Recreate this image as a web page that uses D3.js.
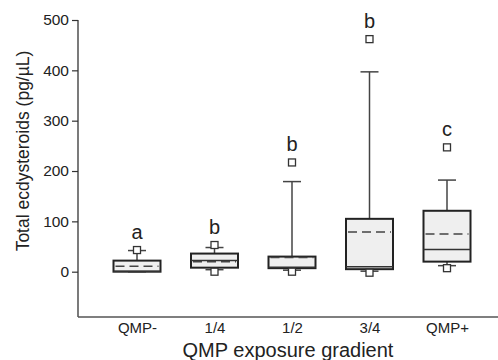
<!DOCTYPE html>
<html>
<head>
<meta charset="utf-8">
<script src="https://cdn.jsdelivr.net/npm/d3@7"></script>
<style>
  body { margin: 0; background: #fff; }
  svg { font-family: Arial, "Liberation Sans", sans-serif; }
</style>
</head>
<body>
<div id="chart"></div>
<script>
// values
const categories = ["QMP-", "1/4", "1/2", "3/4", "QMP+"];
const q1 = [0, 8, 7, 5, 20];
const median = [1, 22, 9, 10, 44];
const q3 = [22, 36, 30, 105, 121];
const mean = [11, 20, 28, 79, 75];
const whiskerLow = [0, 4, 3, 1, 12];
const whiskerHigh = [42, 48, 179, 397, 182];
const outliers = [[43], [53, 0], [217, 0], [462, -2], [247, 7]];
const letters = ["a", "b", "b", "b", "c"];
const yTicks = [0, 100, 200, 300, 400, 500];

const width = 498, height = 360;
const fontFam = "Arial, 'Liberation Sans', sans-serif";
const svg = d3.select("#chart").append("svg")
  .attr("width", width)
  .attr("height", height);

const x = d3.scalePoint().domain(categories).range([137, 447]);
const y = d3.scaleLinear().domain([-90, 500]).range([317, 20]);

const boxW = 47, capW = 18, sq = 7;

// y axis
const yAxis = svg.append("g")
  .attr("transform", "translate(78,0)")
  .call(d3.axisLeft(y).tickValues(yTicks).tickSize(6).tickPadding(3))
  .attr("font-size", 15.5).attr("font-family", fontFam);
yAxis.select(".domain").remove();
yAxis.selectAll(".tick line").attr("stroke", "#333").attr("stroke-width", 1.2);
yAxis.selectAll(".tick text").attr("fill", "#222");
svg.append("line")
  .attr("x1", 78).attr("x2", 78)
  .attr("y1", y(500)).attr("y2", y(-90))
  .attr("stroke", "#333").attr("stroke-width", 1.3);

// x axis
const xAxis = svg.append("g")
  .attr("transform", "translate(0," + y(-90) + ")")
  .call(d3.axisBottom(x).tickSize(0).tickPadding(5))
  .attr("font-size", 15).attr("font-family", fontFam);
xAxis.select(".domain").remove();
xAxis.selectAll(".tick text").attr("fill", "#222");
svg.append("line")
  .attr("x1", 78).attr("x2", width)
  .attr("y1", y(-90)).attr("y2", y(-90))
  .attr("stroke", "#555").attr("stroke-width", 1.3);

// axis titles
svg.append("text")
  .attr("x", 288).attr("y", 357)
  .attr("text-anchor", "middle")
  .attr("font-size", 20).attr("fill", "#222")
  .text("QMP exposure gradient");
svg.append("text")
  .attr("transform", "translate(29,151) rotate(-90)")
  .attr("text-anchor", "middle")
  .attr("font-size", 17.5).attr("fill", "#222")
  .text("Total ecdysteroids (pg/\u00b5L)");

const data = categories.map((c, i) => ({
  c, q1: q1[i], med: median[i], q3: q3[i], mean: mean[i],
  lo: whiskerLow[i], hi: whiskerHigh[i], out: outliers[i], letter: letters[i]
}));

const g = svg.selectAll(".box").data(data).enter().append("g").attr("class", "box");

// whiskers
g.append("line")
  .attr("x1", d => x(d.c)).attr("x2", d => x(d.c))
  .attr("y1", d => y(d.hi)).attr("y2", d => y(d.q3))
  .attr("stroke", "#444").attr("stroke-width", 1.5);
g.append("line")
  .attr("x1", d => x(d.c)).attr("x2", d => x(d.c))
  .attr("y1", d => y(d.lo)).attr("y2", d => y(d.q1))
  .attr("stroke", "#444").attr("stroke-width", 1.5);
g.append("line")
  .attr("x1", d => x(d.c) - capW / 2).attr("x2", d => x(d.c) + capW / 2)
  .attr("y1", d => y(d.hi)).attr("y2", d => y(d.hi))
  .attr("stroke", "#444").attr("stroke-width", 1.5);
g.append("line")
  .attr("x1", d => x(d.c) - capW / 2).attr("x2", d => x(d.c) + capW / 2)
  .attr("y1", d => y(d.lo)).attr("y2", d => y(d.lo))
  .attr("stroke", "#444").attr("stroke-width", 1.5);

// boxes
g.append("rect")
  .attr("x", d => x(d.c) - boxW / 2)
  .attr("width", boxW)
  .attr("y", d => y(d.q3))
  .attr("height", d => y(d.q1) - y(d.q3))
  .attr("fill", "#efefef")
  .attr("stroke", "#222").attr("stroke-width", 2);

// median
g.append("line")
  .attr("x1", d => x(d.c) - boxW / 2).attr("x2", d => x(d.c) + boxW / 2)
  .attr("y1", d => y(d.med)).attr("y2", d => y(d.med))
  .attr("stroke", "#333").attr("stroke-width", 1.5);

// mean (dashed)
g.append("line")
  .attr("x1", d => x(d.c) - boxW / 2 + 2).attr("x2", d => x(d.c) + boxW / 2 - 2)
  .attr("y1", d => y(d.mean)).attr("y2", d => y(d.mean))
  .attr("stroke", "#444").attr("stroke-width", 1.5)
  .attr("stroke-dasharray", "9,5");

// outliers
g.selectAll(".out").data(d => d.out.map(v => ({ c: d.c, v })))
  .enter().append("rect")
  .attr("x", d => x(d.c) - sq / 2)
  .attr("y", d => y(d.v) - sq / 2)
  .attr("width", sq).attr("height", sq)
  .attr("fill", "#fff")
  .attr("stroke", "#333").attr("stroke-width", 1.3);

// significance letters
g.append("text")
  .attr("x", d => x(d.c))
  .attr("y", d => y(d3.max([d.hi].concat(d.out))) - 11)
  .attr("text-anchor", "middle")
  .attr("font-size", 20).attr("fill", "#222")
  .text(d => d.letter);
</script>
</body>
</html>
